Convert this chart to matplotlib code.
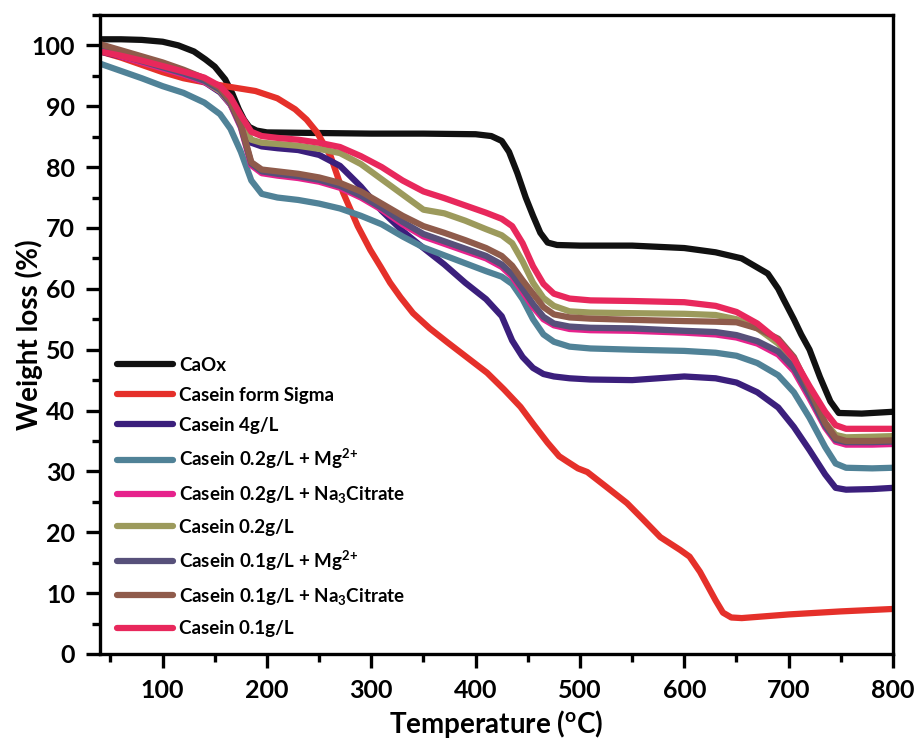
import matplotlib
matplotlib.use("Agg")
import matplotlib.pyplot as plt
from matplotlib.ticker import MultipleLocator

plt.rcParams["font.family"] = ["Lato", "DejaVu Sans"]
plt.rcParams["font.weight"] = "bold"
plt.rcParams["mathtext.fontset"] = "custom"
plt.rcParams["mathtext.rm"] = "Lato:bold"
plt.rcParams["mathtext.bf"] = "Lato:bold"
plt.rcParams["mathtext.default"] = "bf"

# temperature grid shared by the casein samples (deg C)
temp = [40, 60, 80, 100, 120, 140, 155, 165, 175, 185, 195, 210, 230, 250, 270,
        290, 310, 330, 350, 370, 390, 410, 425, 435, 445, 455, 465, 475, 490,
        510, 550, 600, 630, 650, 670, 690, 705, 720, 735, 745, 755, 780, 800]

casein_4 = [99, 98.2, 97.3, 96.4, 95.3, 94.0, 92.3, 90.3, 87.3, 84.0, 83.4, 83.1,
            82.8, 82.0, 80.2, 76.8, 72.8, 69.5, 66.7, 64.0, 61.0, 58.3, 55.5,
            51.5, 48.8, 47.0, 46.0, 45.6, 45.3, 45.1, 45.0, 45.6, 45.3, 44.6,
            43.0, 40.5, 37.3, 33.5, 29.5, 27.3, 27.0, 27.1, 27.3]
casein_02_mg = [97, 95.8, 94.6, 93.3, 92.2, 90.6, 88.7, 86.3, 82.5, 77.8, 75.6,
                75.0, 74.6, 74.0, 73.2, 72.0, 70.6, 68.6, 66.8, 65.5, 64.2, 62.9,
                62.0, 60.8, 58.3, 55.0, 52.5, 51.3, 50.5, 50.2, 50.0, 49.8, 49.5,
                49.0, 47.8, 45.8, 43.0, 38.8, 34.0, 31.3, 30.6, 30.5, 30.6]
casein_02_cit = [99.3, 98.2, 97.2, 96.2, 95.2, 94.0, 92.5, 90.3, 86.5, 80.3, 79.0,
                 78.6, 78.2, 77.6, 76.6, 75.0, 73.0, 70.6, 68.6, 67.4, 66.2, 65.0,
                 63.6, 62.0, 59.5, 57.0, 55.0, 54.0, 53.4, 53.2, 53.1, 52.8, 52.5,
                 52.0, 51.0, 49.2, 46.5, 42.0, 37.2, 34.9, 34.4, 34.4, 34.5]
casein_02 = [99.5, 98.6, 97.7, 96.8, 95.6, 94.2, 92.5, 90.5, 87.5, 84.5, 84.0,
             83.8, 83.5, 83.0, 82.3, 80.5, 78.0, 75.5, 73.0, 72.4, 71.2, 69.8,
             68.8, 67.5, 64.5, 61.0, 58.5, 57.2, 56.3, 56.1, 56.0, 55.9, 55.7,
             55.0, 53.5, 51.0, 48.0, 43.0, 38.0, 36.0, 35.6, 35.7, 35.8]
casein_01_mg = [99.5, 98.4, 97.4, 96.4, 95.4, 94.2, 92.7, 90.5, 86.7, 80.6, 79.3,
                78.9, 78.5, 77.9, 76.9, 75.3, 73.3, 71.0, 69.0, 67.8, 66.6, 65.4,
                64.0, 62.4, 60.0, 57.5, 55.4, 54.3, 53.8, 53.6, 53.5, 53.1, 52.9,
                52.4, 51.4, 49.7, 47.0, 42.5, 37.5, 35.2, 34.8, 34.8, 34.9]
casein_01_cit = [100.2, 99.2, 98.2, 97.2, 96.0, 94.6, 93.0, 90.8, 87.0, 80.8, 79.6,
                 79.3, 78.9, 78.3, 77.4, 76.0, 74.0, 72.0, 70.3, 69.2, 68.0, 66.7,
                 65.4, 63.8, 61.4, 59.2, 57.0, 55.8, 55.3, 55.1, 54.9, 54.7, 54.6,
                 54.5, 53.5, 51.8, 48.8, 43.5, 38.0, 35.5, 35.0, 35.0, 35.1]
casein_01 = [99, 98.3, 97.5, 96.6, 95.7, 94.7, 93.3, 91.5, 88.5, 85.8, 85.1, 84.8,
             84.5, 84.0, 83.3, 81.8, 80.0, 77.8, 76.0, 74.9, 73.7, 72.5, 71.5,
             70.3, 67.5, 63.7, 60.8, 59.2, 58.4, 58.1, 58.0, 57.8, 57.2, 56.2,
             54.3, 51.5, 48.5, 44.0, 39.8, 37.6, 37.0, 37.0, 37.0]

# CaOx and the Sigma casein have their own temperature points
temp_caox = [40, 60, 80, 100, 115, 130, 141, 150, 160, 167, 173, 178, 183, 190,
             200, 250, 300, 350, 400, 415, 425, 432, 440, 448, 455, 462, 469, 478,
             500, 550, 600, 630, 655, 680, 690, 695, 705, 712, 720, 730, 740, 748,
             770, 800]
caox = [101, 101, 100.9, 100.6, 100, 99, 97.7, 96.5, 94.4, 92, 89.5, 87.8, 86.6,
        86, 85.7, 85.6, 85.5, 85.5, 85.4, 85.1, 84.3, 82.5, 79, 75, 72, 69.2,
        67.6, 67.2, 67.1, 67.1, 66.7, 66, 65, 62.5, 60, 58.3, 55, 52.5, 50, 45.5,
        41.5, 39.6, 39.5, 39.8]

temp_sigma = [40, 60, 80, 100, 120, 141, 160, 189, 210, 227, 238, 248, 261, 273,
              287, 299, 309, 318, 328, 340, 356, 373, 392, 411, 427, 443, 456, 469,
              480, 488, 498, 507, 525, 545, 560, 577, 596, 605, 615, 623, 630, 637,
              645, 655, 700, 750, 800]
sigma = [99, 98, 96.8, 95.6, 94.6, 93.9, 93.3, 92.5, 91.3, 89.5, 87.8, 85.7, 81.8,
         75.8, 70.3, 66.4, 63.6, 61.0, 58.6, 56, 53.5, 51.2, 48.7, 46.2, 43.5,
         40.6, 37.6, 34.7, 32.5, 31.6, 30.5, 29.9, 27.5, 24.8, 22.2, 19.2, 17.1,
         16, 13.5, 11, 8.8, 6.8, 6.0, 5.9, 6.5, 7.0, 7.4]

series = [
    (temp_caox, caox, "CaOx", "#111111"),
    (temp_sigma, sigma, "Casein form Sigma", "#e5302a"),
    (temp, casein_4, "Casein 4g/L", "#3b1f7c"),
    (temp, casein_02_mg, "Casein 0.2g/L + Mg$^{2{+}}$", "#508297"),
    (temp, casein_02_cit, "Casein 0.2g/L + Na$_3$Citrate", "#e6228c"),
    (temp, casein_02, "Casein 0.2g/L", "#9c9a5c"),
    (temp, casein_01_mg, "Casein 0.1g/L + Mg$^{2{+}}$", "#57507a"),
    (temp, casein_01_cit, "Casein 0.1g/L + Na$_3$Citrate", "#8f5b4b"),
    (temp, casein_01, "Casein 0.1g/L", "#e8285c"),
]

fig = plt.figure(figsize=(9.21, 7.47), dpi=100)
ax = fig.add_axes([0.1086, 0.1245, 0.861, 0.8555])

for x, y, name, col in series:
    ax.plot(x, y, color=col, lw=4.5, label=name, solid_capstyle="round")

ax.set_xlim(40, 800)
ax.set_ylim(0, 105)
ax.xaxis.set_major_locator(MultipleLocator(100))
ax.xaxis.set_minor_locator(MultipleLocator(50))
ax.yaxis.set_major_locator(MultipleLocator(10))
ax.yaxis.set_minor_locator(MultipleLocator(5))
ax.tick_params(which="both", direction="out", width=2.4, labelsize=18)
ax.tick_params(which="major", length=10, pad=8)
ax.tick_params(which="minor", length=6)
ax.tick_params(top=False, right=False)
for s in ax.spines.values():
    s.set_linewidth(2.4)

ax.set_xlabel("Temperature ($^{\\mathrm{o}}$C)", fontsize=20, fontweight="bold",
              labelpad=4)
ax.set_ylabel("Weight loss (%)", fontsize=20, fontweight="bold")
ax.yaxis.set_label_coords(-0.072, 0.5)

ax.legend(loc="lower left", bbox_to_anchor=(0.0, 0.0), frameon=False,
          fontsize=13.5, handlelength=3.0, handletextpad=0.3, labelspacing=0.70,
          borderaxespad=0.5)

fig.savefig("out.png", dpi=100)
